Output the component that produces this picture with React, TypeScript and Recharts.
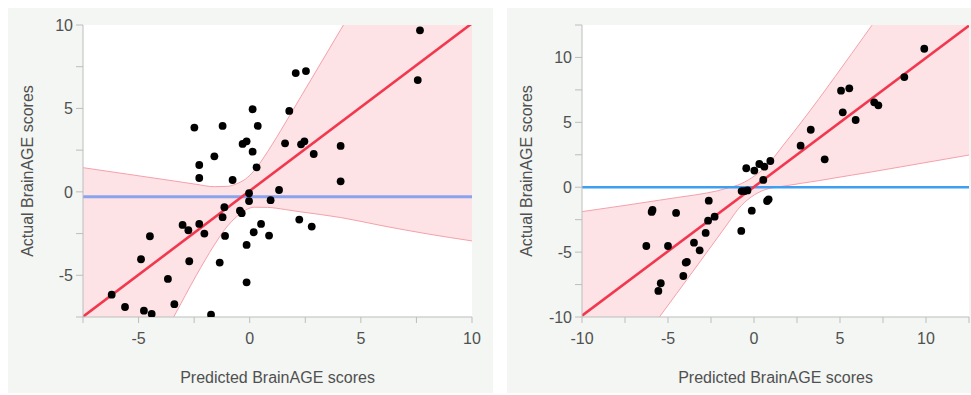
import React from 'react';
import { ComposedChart, Area, Line, Scatter, XAxis, YAxis, CartesianGrid, Label } from 'recharts';

// ---------- Left panel data ----------
const leftPredicted = [7.66, 7.56, 2.07, 2.53, 1.78, 0.13, -2.49, -1.22, 0.36, -0.32, -0.14, 0.13, 1.59, 2.31, 2.46, 2.88, 4.09, 4.09, -1.59, -2.27, -2.27, -0.77, 0.31, 1.32, -0.03, -0.03, 0.94, -1.14, -0.44, -0.36, -1.22, -3.02, -2.76, -2.27, -2.04, -1.11, -4.49, -4.89, -2.72, -1.35, -0.14, 0.18, 0.51, 0.87, 2.23, 2.79, -3.68, -0.14, -6.21, -5.61, -3.39, -4.76, -4.41, -1.74];
const leftActual = [9.68, 6.7, 7.12, 7.24, 4.85, 4.95, 3.85, 3.95, 3.95, 2.87, 3.03, 2.41, 2.91, 2.85, 3.03, 2.27, 2.75, 0.63, 2.13, 1.61, 0.83, 0.71, 1.47, 0.11, -0.08, -0.55, -0.5, -0.92, -1.13, -1.28, -1.52, -1.98, -2.3, -1.92, -2.5, -2.64, -2.66, -4.04, -4.16, -4.24, -3.18, -2.42, -1.92, -2.62, -1.66, -2.08, -5.22, -5.42, -6.16, -6.9, -6.73, -7.12, -7.32, -7.36];
const leftFitX = [-7.5, 10];
const leftFitY = [-7.48, 10.1];
const leftMean = -0.3;
const leftBandX = [-7.5, -5.5, -3.4, -2.4, -1.6, -1.0, -0.6, -0.2, 0.2, 0.8, 1.6, 2.3, 3.2, 4.1, 6, 8, 10];
const leftBandLow = [-17, -12.5, -7.45, -5.0, -3.2, -2.05, -1.5, -1.1, -0.92, -0.93, -1.06, -1.2, -1.36, -1.54, -2.04, -2.52, -2.94];
const leftBandHigh = [1.45, 1.06, 0.65, 0.45, 0.31, 0.33, 0.48, 0.76, 1.27, 2.4, 4.13, 5.7, 7.72, 9.74, 14, 18.5, 23];
const leftDomain: [number, number] = [-7.5, 10];
const leftTicks = [-7.5, -5, -2.5, 0, 2.5, 5, 7.5, 10];

// ---------- Right panel data ----------
const rightPredicted = [9.9, 8.74, 5.06, 5.54, 5.16, 5.91, 6.99, 7.23, 2.71, 3.3, 4.11, -0.45, 0.02, 0.31, 0.6, 0.95, 0.54, -0.72, -0.55, -0.38, -2.63, -2.29, -2.67, -2.81, -3.49, -3.16, -3.97, -3.9, -4.11, -5.42, -5.56, -6.26, -5.0, -5.9, -5.95, -4.53, -0.74, -0.13, 0.76, 0.85];
const rightActual = [10.67, 8.49, 7.44, 7.62, 5.77, 5.18, 6.54, 6.31, 3.2, 4.43, 2.15, 1.46, 1.28, 1.79, 1.58, 2.02, 0.56, -0.3, -0.3, -0.25, -1.04, -2.27, -2.58, -3.52, -4.27, -4.86, -5.81, -5.75, -6.84, -7.4, -7.99, -4.53, -4.53, -1.75, -1.9, -1.98, -3.37, -1.81, -1.06, -0.93];
const rightFitX = [-10, 12.5];
const rightFitY = [-9.9, 12.45];
const rightMean = 0;
const rightBandX = [-10, -7.5, -5.5, -4.5, -3.45, -2.1, -1.5, -0.93, -0.16, 0.62, 1.8, 3.74, 5.68, 6.84, 8.5, 10.5, 12.5];
const rightBandLow = [-18.3, -13.7, -10.0, -8.2, -6.3, -3.85, -2.75, -1.7, -0.75, -0.2, 0.1, 0.5, 0.93, 1.18, 1.56, 2.02, 2.48];
const rightBandHigh = [-1.88, -1.4, -1.0, -0.8, -0.6, -0.27, -0.05, 0.17, 0.7, 1.5, 3.4, 6.75, 10.3, 12.45, 15.5, 19.2, 22.9];
const rightDomain: [number, number] = [-10, 12.5];
const rightTicks = [-10, -7.5, -5, -2.5, 0, 2.5, 5, 7.5, 10, 12.5];

const xTitle = 'Predicted BrainAGE scores';
const yTitle = 'Actual BrainAGE scores';

const PANEL_BG = '#f3f6f3';
const FONT = '"Liberation Sans", Arial, Helvetica, sans-serif';
const AXIS_COLOR = '#bdbdbd';
const TEXT_COLOR = '#505050';

const fmt = (v: number) => (Math.abs(v % 5) < 1e-9 ? String(v) : '');

const Dot = (props: any) => {
  if (props.cx == null || props.cy == null) return null;
  return <circle cx={props.cx} cy={props.cy} r={3.9} fill="#000" />;
};

type PanelProps = {
  left: number;
  width: number;
  marginRight: number;
  domain: [number, number];
  ticks: number[];
  px: number[];
  py: number[];
  bandX: number[];
  bandLow: number[];
  bandHigh: number[];
  fitX: number[];
  fitY: number[];
  mean: number;
  meanColor: string;
  meanWidth: number;
};

function Panel(p: PanelProps) {
  const bandData = p.bandX.map((x, i) => ({ x, band: [p.bandLow[i], p.bandHigh[i]] }));
  const fitData = p.fitX.map((x, i) => ({ x, y: p.fitY[i] }));
  const meanData = p.domain.map((x) => ({ x, y: p.mean }));
  const pts = p.px.map((x, i) => ({ x, y: p.py[i] }));

  const xLabel = (props: any) => {
    const vb = props.viewBox || { x: 75, y: 309, width: 389, height: 76 };
    return (
      <text x={vb.x + vb.width / 2} y={vb.y + 66} textAnchor="middle" fill={TEXT_COLOR} fontSize={16} fontFamily={FONT}>
        {xTitle}
      </text>
    );
  };
  const yLabel = (props: any) => {
    const vb = props.viewBox || { x: 0, y: 17, width: 75, height: 292 };
    const cx = vb.x + 19;
    const cy = vb.y + vb.height / 2;
    return (
      <text x={cx} y={cy} transform={`rotate(-90 ${cx} ${cy})`} textAnchor="middle" dominantBaseline="central" fill={TEXT_COLOR} fontSize={16} fontFamily={FONT}>
        {yTitle}
      </text>
    );
  };

  return (
    <div style={{ position: 'absolute', left: p.left, top: 8, width: p.width, height: 385, background: PANEL_BG, fontFamily: FONT }}>
      <ComposedChart width={p.width} height={385} data={bandData} margin={{ top: 17, right: p.marginRight, bottom: 0, left: 0 }} style={{ fontFamily: FONT }}>
        <CartesianGrid horizontal={false} vertical={false} fill="#ffffff" />
        <XAxis
          type="number"
          dataKey="x"
          domain={p.domain}
          ticks={p.ticks}
          interval={0}
          allowDataOverflow
          tickFormatter={fmt}
          height={76}
          tickSize={6}
          tickMargin={10}
          stroke={AXIS_COLOR}
          tick={{ fill: TEXT_COLOR, fontSize: 16 }}
        >
          <Label content={xLabel} />
        </XAxis>
        <YAxis
          type="number"
          domain={p.domain}
          ticks={p.ticks}
          interval={0}
          allowDataOverflow
          tickFormatter={fmt}
          width={75}
          tickSize={7}
          tickMargin={3}
          stroke={AXIS_COLOR}
          tick={{ fill: TEXT_COLOR, fontSize: 16 }}
        >
          <Label content={yLabel} />
        </YAxis>
        <XAxis xAxisId="top" orientation="top" type="number" domain={p.domain} allowDataOverflow height={0} tick={false} tickLine={false} stroke={AXIS_COLOR} />
        <YAxis yAxisId="right" orientation="right" type="number" domain={p.domain} allowDataOverflow width={0} tick={false} tickLine={false} stroke={AXIS_COLOR} />
        <Area
          dataKey="band"
          type="monotone"
          fill="#fde3e6"
          fillOpacity={1}
          stroke="#f6a0aa"
          strokeWidth={1}
          dot={false}
          activeDot={false}
          isAnimationActive={false}
        />
        <Line data={meanData} dataKey="y" type="linear" stroke={p.meanColor} strokeWidth={p.meanWidth} dot={false} activeDot={false} isAnimationActive={false} />
        <Line data={fitData} dataKey="y" type="linear" stroke="#f2384f" strokeWidth={2.6} dot={false} activeDot={false} isAnimationActive={false} />
        <Scatter data={pts} dataKey="y" fill="#000" shape={Dot} isAnimationActive={false} />
      </ComposedChart>
    </div>
  );
}

export default function App() {
  return (
    <div style={{ position: 'absolute', left: 0, top: 0, width: 971, height: 395, background: '#ffffff', overflow: 'hidden' }}>
      <Panel
        left={8}
        width={485}
        marginRight={21}
        domain={leftDomain}
        ticks={leftTicks}
        px={leftPredicted}
        py={leftActual}
        bandX={leftBandX}
        bandLow={leftBandLow}
        bandHigh={leftBandHigh}
        fitX={leftFitX}
        fitY={leftFitY}
        mean={leftMean}
        meanColor="#8aa3ec"
        meanWidth={3}
      />
      <Panel
        left={507}
        width={464}
        marginRight={2}
        domain={rightDomain}
        ticks={rightTicks}
        px={rightPredicted}
        py={rightActual}
        bandX={rightBandX}
        bandLow={rightBandLow}
        bandHigh={rightBandHigh}
        fitX={rightFitX}
        fitY={rightFitY}
        mean={rightMean}
        meanColor="#3e9ff0"
        meanWidth={2.5}
      />
    </div>
  );
}
